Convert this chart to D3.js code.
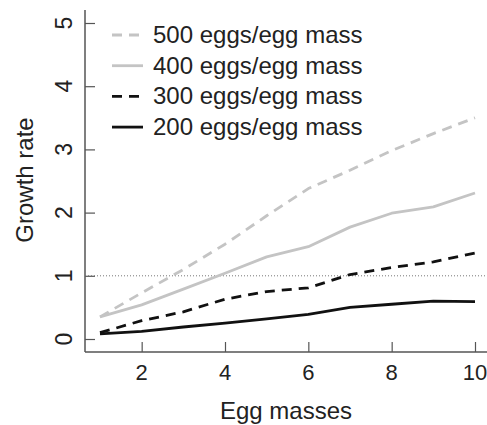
<!DOCTYPE html>
<html><head><meta charset="utf-8">
<script src="https://cdn.jsdelivr.net/npm/d3@7"></script>
<style>body{margin:0;background:#fff}svg{display:block}text{font-family:"Liberation Sans",Arial,Helvetica,sans-serif}</style>
</head><body>
<script>
const eggMasses = [1,2,3,4,5,6,7,8,9,10];
const s500 = [0.35,0.73,1.10,1.50,1.95,2.38,2.67,2.98,3.25,3.50];
const s400 = [0.35,0.54,0.79,1.04,1.30,1.46,1.77,1.99,2.09,2.31];
const s300 = [0.10,0.29,0.43,0.63,0.75,0.81,1.02,1.13,1.22,1.36];
const s200 = [0.08,0.12,0.19,0.25,0.32,0.39,0.50,0.55,0.60,0.59];
const seriesNames = ["500 eggs/egg mass","400 eggs/egg mass","300 eggs/egg mass","200 eggs/egg mass"];
const seriesColors = ["#c4c4c4","#c4c4c4","#111","#111"];
const seriesDash = ["10,7",null,"10,7",null];
const xTicks = [2,4,6,8,10];
const yTicks = [0,1,2,3,4,5];
const refLine = 1;

const W=487,H=425;
const svg=d3.select("body").append("svg").attr("width",W).attr("height",H);
const x=d3.scaleLinear().domain([1,10]).range([100,475]);
const y=d3.scaleLinear().domain([0,5]).range([339,23]);
const axisColor="#555";
const x0=85, yb=352;

// axes lines
svg.append("line").attr("x1",x0).attr("x2",x0).attr("y1",10).attr("y2",yb).attr("stroke",axisColor).attr("stroke-width",1.5);
svg.append("line").attr("x1",x0).attr("x2",W).attr("y1",yb).attr("y2",yb).attr("stroke",axisColor).attr("stroke-width",1.5);

const ya=d3.axisRight(y).tickValues(yTicks).tickSize(10).tickFormat("");
const gy=svg.append("g").attr("transform",`translate(${x0},0)`).call(ya);
gy.select(".domain").remove();
gy.selectAll("line").attr("stroke",axisColor).attr("stroke-width",1.2);
const xa=d3.axisTop(x).tickValues(xTicks).tickSize(10).tickFormat("");
const gx=svg.append("g").attr("transform",`translate(0,${yb})`).call(xa);
gx.select(".domain").remove();
gx.selectAll("line").attr("stroke",axisColor).attr("stroke-width",1.2);

// tick labels
svg.selectAll(".xl").data(xTicks).enter().append("text")
 .attr("x",d=>x(d)).attr("y",380).attr("text-anchor","middle")
 .attr("font-size",22).attr("fill","#222").text(d=>d);
svg.selectAll(".yl").data(yTicks).enter().append("text")
 .attr("transform",d=>`translate(72,${y(d)}) rotate(-90)`).attr("text-anchor","middle")
 .attr("font-size",23).attr("fill","#222").text(d=>d);

// titles
svg.append("text").attr("x",286).attr("y",419).attr("text-anchor","middle").attr("font-size",24).attr("fill","#222").text("Egg masses");
svg.append("text").attr("transform","translate(33,180) rotate(-90)").attr("text-anchor","middle").attr("font-size",24).attr("fill","#222").text("Growth rate");

// reference line
svg.append("line").attr("x1",x0).attr("x2",W).attr("y1",y(refLine)).attr("y2",y(refLine))
 .attr("stroke","#777").attr("stroke-width",1).attr("stroke-dasharray","1,2");

// series
const all=[s500,s400,s300,s200];
const line=d3.line().x((d,i)=>x(eggMasses[i])).y(d=>y(d));
all.forEach((s,k)=>{
  svg.append("path").attr("d",line(s)).attr("fill","none").attr("stroke",seriesColors[k])
   .attr("stroke-width",2.8).attr("stroke-dasharray",seriesDash[k]).attr("stroke-linejoin","round");
});

// legend
const lg=svg.append("g");
seriesNames.forEach((n,k)=>{
  const by=43+k*30.7;
  lg.append("line").attr("x1",112).attr("x2",143).attr("y1",by-8).attr("y2",by-8)
   .attr("stroke",seriesColors[k]).attr("stroke-width",2.8).attr("stroke-dasharray",seriesDash[k]);
  lg.append("text").attr("x",153).attr("y",by).attr("font-size",24).attr("fill","#222").text(n);
});
</script>
</body></html>
